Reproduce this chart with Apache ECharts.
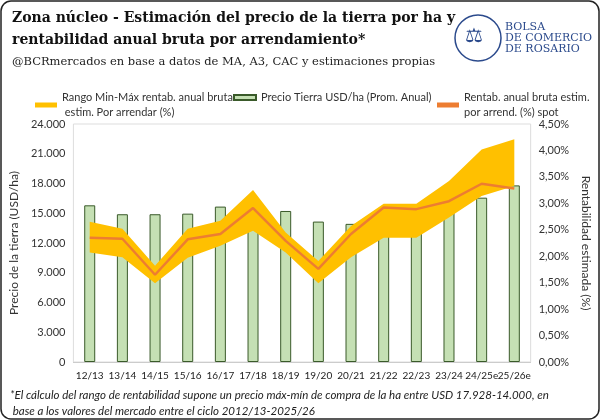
<!DOCTYPE html>
<html><head><meta charset="utf-8">
<script src="https://cdn.jsdelivr.net/npm/echarts@6/dist/echarts.min.js"></script>
<style>html,body{margin:0;padding:0;background:#fff}#c{width:600px;height:420px}</style>
</head><body><div id="c"></div>
<script>
const categories = ["12/13","13/14","14/15","15/16","16/17","17/18","18/19","19/20","20/21","21/22","22/23","23/24","24/25e","25/26e"];
const landPrice = [15800,14900,14900,14960,15670,15640,15230,14160,13930,14260,14500,15670,16570,17810];
const rentSpot = [2.35,2.33,1.65,2.32,2.42,2.91,2.29,1.76,2.42,2.92,2.89,3.04,3.37,3.28];
const rangeMin = [2.07,1.98,1.49,1.97,2.20,2.48,2.07,1.49,1.98,2.35,2.35,2.73,3.14,3.33];
const rangeMax = [2.65,2.52,1.82,2.52,2.67,3.25,2.45,1.91,2.57,2.99,2.99,3.42,4.02,4.21];
const leftTicks = {min:0,max:24000,interval:3000};
const rightTicks = {min:0,max:4.5,interval:0.5};

const rangeDiff = rangeMax.map((v,i)=>+(v-rangeMin[i]).toFixed(2));
const chart = echarts.init(document.getElementById('c'));
const serif = '"DejaVu Serif", "Liberation Serif", serif';
const sans = 'Lato, "Open Sans", sans-serif';
const N1='Rango Min-Máx rentab. anual bruta\n estim. Por arrendar (%)';
const N2='Precio Tierra USD/ha (Prom. Anual)';
const N3='Rentab. anual bruta estim.\npor arrend. (%) spot';
const lg = (left,name,icon)=>({top:80,left:left,itemWidth:22,itemHeight:5,icon:icon,
  textStyle:{fontFamily:sans,fontSize:11,color:'#333',lineHeight:15,padding:[10,0,0,0]},data:[name]});
chart.setOption({
  animation:false,
  graphic:[
    {type:'rect',shape:{x:1,y:1,width:598,height:418,r:10},style:{fill:'none',stroke:'#222',lineWidth:1.5}},
    {type:'text',left:12,top:11,style:{text:'Zona núcleo - Estimación del precio de la tierra por ha y',font:'bold 14px '+serif,fill:'#111'}},
    {type:'text',left:12,top:33,style:{text:'rentabilidad anual bruta por arrendamiento*',font:'bold 14px '+serif,fill:'#111'}},
    {type:'text',left:12,top:56,style:{text:'@BCRmercados en base a datos de MA, A3, CAC y estimaciones propias',font:'11.5px '+serif,fill:'#222'}},
    {type:'circle',shape:{cx:478,cy:38,r:23},style:{fill:'#fff',stroke:'#2b4a8c',lineWidth:1.5}},
    {type:'text',left:465,top:27,style:{text:'⚖',font:'20px "DejaVu Sans"',fill:'#2b4a8c'}},
    {type:'text',left:505,top:22,style:{text:'BOLSA\nDE COMERCIO\nDE ROSARIO',font:'11px '+serif,fill:'#2b4a8c',lineHeight:11}},
    {type:'text',left:10,top:387,style:{text:'*El cálculo del rango de rentabilidad supone un precio máx-mín de compra de la ha entre USD 17.928-14.000, en\n base a los valores del mercado entre el ciclo 2012/13-2025/26',font:'italic 11.5px '+sans,fill:'#222',lineHeight:16}}
  ],
  legend:[lg(30,N1,'rect'),lg(228,N2,'rect'),lg(432,N3,'rect')],
  grid:{left:66,right:64,top:124,bottom:58,show:true,borderColor:'#ddd',borderWidth:1},
  xAxis:{type:'category',data:categories,axisTick:{show:false},axisLine:{lineStyle:{color:'#ccc'}},
    axisLabel:{fontFamily:sans,fontSize:10,color:'#222',interval:0,margin:9}},
  yAxis:[
    {type:'value',...leftTicks,name:'Precio de la tierra (USD/ha)',nameLocation:'middle',nameGap:44,nameTextStyle:{fontFamily:sans,fontSize:12,color:'#333'},
      splitLine:{show:false},axisLabel:{fontFamily:sans,fontSize:11,color:'#333',formatter:v=>v.toLocaleString('de-DE')}},
    {type:'value',...rightTicks,name:'Rentabilidad estimada (%)',nameLocation:'middle',nameGap:46,nameRotate:-90,nameTextStyle:{fontFamily:sans,fontSize:12,color:'#333'},
      splitLine:{show:false},axisLabel:{fontFamily:sans,fontSize:11,color:'#333',formatter:v=>v.toFixed(2).replace('.',',')+'%'}}
  ],
  series:[
    {name:'base',type:'line',yAxisIndex:1,stack:'r',data:rangeMin,symbol:'none',lineStyle:{opacity:0},silent:true,z:3},
    {name:N1,type:'line',yAxisIndex:1,stack:'r',data:rangeDiff,symbol:'none',
      lineStyle:{opacity:0},areaStyle:{color:'#ffc000',opacity:1},itemStyle:{color:'#ffc000'},z:3},
    {name:N2,type:'bar',data:landPrice,barWidth:11,z:2,
      itemStyle:{color:'#c5e0b4',borderColor:'#3a5a2a',borderWidth:1}},
    {name:N3,type:'line',yAxisIndex:1,data:rentSpot,symbol:'none',
      lineStyle:{color:'#ed7d31',width:2.5},itemStyle:{color:'#ed7d31'},z:5}
  ]
});
</script></body></html>
